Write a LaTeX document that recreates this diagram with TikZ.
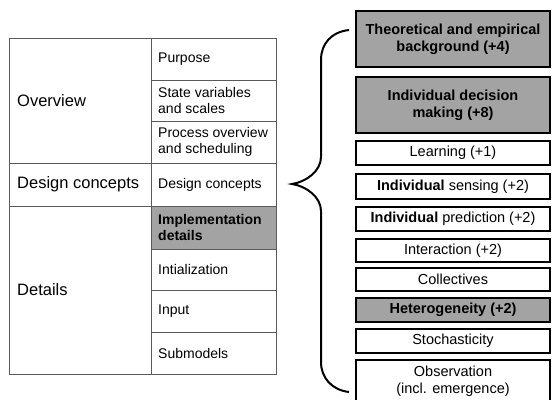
\documentclass[tikz,border=0pt]{standalone}
\usepackage{fontspec}
\setmainfont{Liberation Sans}
\definecolor{boxgray}{RGB}{163,163,163}
\definecolor{tline}{RGB}{90,90,90}
\begin{document}
\begin{tikzpicture}[x=1pt,y=-1pt,
  cell/.style={draw=tline, line width=1pt, rectangle, inner sep=0pt, outer sep=0pt},
  ltext/.style={anchor=west, inner sep=0pt, align=left, font=\fontsize{16.5}{19}\selectfont},
  rtext/.style={anchor=west, inner sep=0pt, align=left, font=\fontsize{14}{16}\selectfont},
  rbox/.style={draw=black, line width=2pt, rectangle, minimum width=194pt, inner sep=0pt, outer sep=0pt, align=center, font=\fontsize{14.5}{17}\selectfont},
  gbox/.style={rbox, fill=boxgray},
  bracepath/.style={draw=black, line width=2pt}
]
\useasboundingbox (0,0) rectangle (553,399);
\fill[white] (0,0) rectangle (553,399);

% left table: left column
\node[cell, minimum width=142pt, minimum height=125pt] (ov) at (80,100.5) {};
\node[cell, minimum width=142pt, minimum height=43pt] (dc) at (80,184.5) {};
\node[cell, minimum width=142pt, minimum height=168pt] (det) at (80,290) {};
% right column
\node[cell, minimum width=125pt, minimum height=42pt] (pur) at (213.5,59) {};
\node[cell, minimum width=125pt, minimum height=41pt] (sv) at (213.5,100.5) {};
\node[cell, minimum width=125pt, minimum height=42pt] (po) at (213.5,142) {};
\node[cell, minimum width=125pt, minimum height=43pt] (dc2) at (213.5,184.5) {};
\node[cell, fill=boxgray, minimum width=125pt, minimum height=43pt] (imp) at (213.5,227.5) {};
\node[cell, minimum width=125pt, minimum height=41pt] (ini) at (213.5,269.5) {};
\node[cell, minimum width=125pt, minimum height=42pt] (inp) at (213.5,311) {};
\node[cell, minimum width=125pt, minimum height=42pt] (sub) at (213.5,353) {};

% texts
\node[ltext] (tov) at (17,100.5) {Overview};
\node[ltext] (tdc) at (17,184.5) {Design concepts};
\node[ltext] (tdet) at (17,290) {Details};
\node[rtext] (tpur) at (158,59) {Purpose};
\node[rtext] (tsv) at (158,100.5) {State variables\\and scales};
\node[rtext] (tpo) at (158,142) {Process overview\\and scheduling};
\node[rtext] (tdc2) at (158,184.5) {Design concepts};
\node[rtext, font=\fontsize{14}{16}\selectfont\bfseries] (timp) at (158,227.5) {Implementation\\details};
\node[rtext] (tini) at (158,269.5) {Intialization};
\node[rtext] (tinp) at (158,311) {Input};
\node[rtext] (tsub) at (158,353) {Submodels};

% right boxes
\node[gbox, minimum height=56pt] (b1) at (453,39) {\bfseries Theoretical and empirical\\\bfseries background (+4)};
\node[gbox, minimum height=56pt] (b2) at (453,105) {\bfseries Individual decision\\\bfseries making (+8)};
\node[rbox, minimum height=24pt] (b3) at (453,153) {Learning (+1)};
\node[rbox, minimum height=25pt] (b4) at (453,186.5) {\textbf{Individual} sensing (+2)};
\node[rbox, minimum height=24pt] (b5) at (453,219) {\textbf{Individual} prediction (+2)};
\node[rbox, minimum height=23pt] (b6) at (453,250.5) {Interaction (+2)};
\node[rbox, minimum height=23pt] (b7) at (453,279.5) {Collectives};
\node[gbox, minimum height=24pt] (b8) at (453,310) {\bfseries Heterogeneity (+2)};
\node[rbox, minimum height=24pt] (b9) at (453,341) {Stochasticity};
\node[rbox, minimum height=42pt] (b10) at (453,381) {Observation\\(incl. emergence)};

% brace
\coordinate (btop) at (349,30);
\coordinate (bmid) at (292,184);
\coordinate (bbot) at (349,392);
\draw[bracepath] (btop) .. controls (331,32) and (321,44) .. (321,60)
  -- (321,157) .. controls (321,171) and (306,182) .. (bmid)
  .. controls (306,186) and (321,197) .. (321,211)
  -- (321,362) .. controls (321,378) and (332,390) .. (bbot);
\end{tikzpicture}
\end{document}
